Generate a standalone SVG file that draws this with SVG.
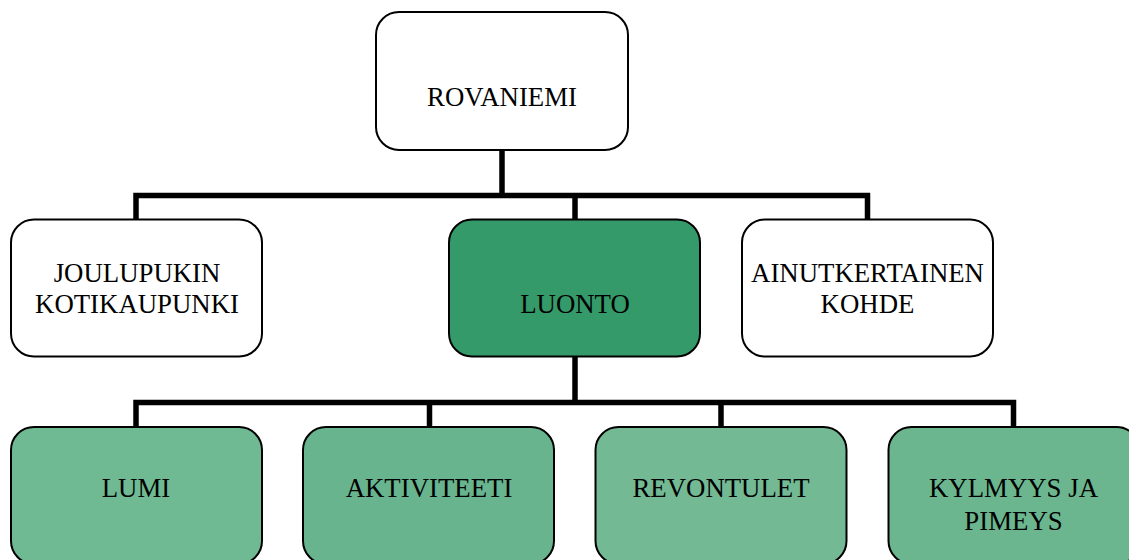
<svg xmlns="http://www.w3.org/2000/svg" width="1129" height="560" viewBox="0 0 1129 560">
<style>
.box{stroke:#000;stroke-width:2}
.white{fill:#fff}
.mid{fill:#359a69}
.leaf{fill:#6db791}
text{font-family:"Liberation Serif","Times New Roman",serif;font-size:26.8px;fill:#000;text-anchor:middle}
.conn{fill:none;stroke:#000;stroke-width:5.5;stroke-linejoin:miter}
</style>
<rect width="1129" height="560" fill="#fff"/>
<g id="connectors">
<path class="conn" d="M502,150 V195.5"/>
<path class="conn" d="M136,219 V195.5 H867.5 V219"/>
<path class="conn" d="M575,195.5 V219"/>
<path class="conn" d="M575,357 V402.5"/>
<path class="conn" d="M136,427 V402.5 H1013.5 V427"/>
<path class="conn" d="M429.5,402.5 V427"/>
<path class="conn" d="M721,402.5 V427"/>
</g>
<g id="rovaniemi">
<rect class="box white" x="376" y="12" width="252" height="138" rx="23"/>
<text x="502" y="106">ROVANIEMI</text>
</g>
<g id="joulupukin">
<rect class="box white" x="11" y="219.5" width="251" height="137" rx="23"/>
<text x="137" y="282">JOULUPUKIN</text>
<text x="137" y="313">KOTIKAUPUNKI</text>
</g>
<g id="luonto">
<rect class="box mid" x="449" y="219.5" width="251" height="137" rx="23"/>
<text x="575" y="313">LUONTO</text>
</g>
<g id="ainutkertainen">
<rect class="box white" x="742" y="219.5" width="251" height="137" rx="23"/>
<text x="867.5" y="282">AINUTKERTAINEN</text>
<text x="867.5" y="313">KOHDE</text>
</g>
<g id="lumi">
<rect class="box leaf" x="11" y="427" width="251" height="137" rx="23" style="fill:#6fba93"/>
<text x="136" y="497">LUMI</text>
</g>
<g id="aktiviteeti">
<rect class="box leaf" x="303" y="427" width="251" height="137" rx="23" style="fill:#68b48e"/>
<text x="429" y="497">AKTIVITEETI</text>
</g>
<g id="revontulet">
<rect class="box leaf" x="595.5" y="427" width="251" height="137" rx="23" style="fill:#72b994"/>
<text x="721" y="497">REVONTULET</text>
</g>
<g id="kylmyys">
<rect class="box leaf" x="888.5" y="427" width="251" height="137" rx="23" style="fill:#6bb68f"/>
<text x="1013.5" y="497">KYLMYYS JA</text>
<text x="1013.5" y="530">PIMEYS</text>
</g>
</svg>
